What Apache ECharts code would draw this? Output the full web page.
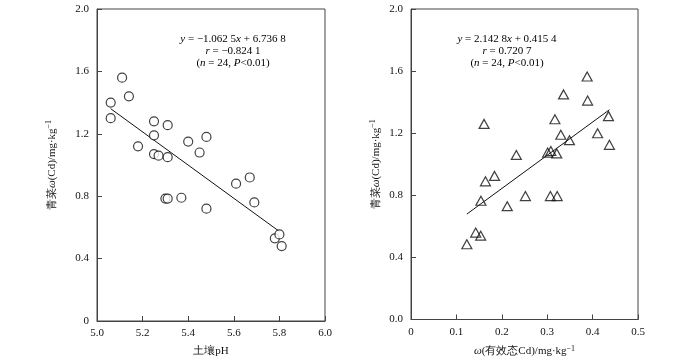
<!DOCTYPE html>
<html><head><meta charset="utf-8">
<script src="https://cdn.jsdelivr.net/npm/echarts@6/dist/echarts.min.js"></script>
<style>html,body{margin:0;padding:0;background:#fff}#c{width:700px;height:362px}</style>
</head><body><div id="c"></div>
<script>
// Left panel: soil pH vs Cd in 青菜
const soilPH = [5.11,5.14,5.06,5.06,5.25,5.31,5.25,5.18,5.40,5.48,5.45,5.25,5.27,5.31,5.67,5.61,5.69,5.30,5.31,5.37,5.48,5.78,5.80,5.81];
const cdLeft = [1.56,1.44,1.40,1.30,1.28,1.255,1.19,1.12,1.15,1.18,1.08,1.07,1.06,1.05,0.92,0.88,0.76,0.785,0.785,0.79,0.72,0.53,0.555,0.48];
// Right panel: available Cd vs Cd in 青菜
const availCd = [0.388,0.336,0.389,0.161,0.317,0.435,0.411,0.330,0.349,0.437,0.232,0.301,0.308,0.321,0.184,0.164,0.154,0.212,0.252,0.307,0.322,0.1425,0.1535,0.123];
const cdRight = [1.565,1.45,1.41,1.26,1.29,1.31,1.20,1.19,1.155,1.125,1.06,1.075,1.085,1.07,0.925,0.89,0.765,0.73,0.795,0.795,0.795,0.56,0.54,0.485];
// Fitted lines (endpoints)
const fitLeftX = [5.06, 5.80];
const fitLeftY = [1.361, 0.574];
const fitRightX = [0.123, 0.437];
const fitRightY = [0.679, 1.351];
// Ticks
const leftXTicks = ['5.0','5.2','5.4','5.6','5.8','6.0'];
const yTicksLeft = ['0','0.4','0.8','1.2','1.6','2.0'];
const yTicksRight = ['0.0','0.4','0.8','1.2','1.6','2.0'];
const rightXTicks = ['0','0.1','0.2','0.3','0.4','0.5'];

const FONT = 'Liberation Serif';
const base = {fontFamily: FONT, fontSize: 11, color: '#111'};
const rich = {
  i: {fontFamily: FONT, fontSize: 11, fontStyle: 'italic', color: '#111'},
  n: {fontFamily: FONT, fontSize: 11, color: '#111'},
  sup: {fontFamily: FONT, fontSize: 8, color: '#111', verticalAlign: 'top', padding: [0,0,6,0]}
};
const axisCol = '#444';
function xAxisDef(idx, min, max, interval, labels, name, gap) {
  return {
    type: 'value', gridIndex: idx, min, max, interval,
    axisLine: {show: true, onZero: false, lineStyle: {color: axisCol, width: 1}},
    axisTick: {show: true, inside: true, length: 5, lineStyle: {color: axisCol}},
    splitLine: {show: false},
    axisLabel: Object.assign({}, base, {margin: 7, formatter: v => labels[Math.round((v - min) / interval)]}),
    name, nameLocation: 'middle', nameGap: gap,
    nameTextStyle: Object.assign({}, base, {rich})
  };
}
function yAxisDef(idx, labels, gap) {
  return {
    type: 'value', gridIndex: idx, min: 0, max: 2, interval: 0.4,
    axisLine: {show: true, onZero: false, lineStyle: {color: axisCol, width: 1}},
    axisTick: {show: true, inside: true, length: 5, lineStyle: {color: axisCol}},
    splitLine: {show: false},
    axisLabel: Object.assign({}, base, {margin: 8, formatter: v => labels[Math.round(v / 0.4)]}),
    name: '{n|青菜}{i|ω}{n|(Cd)/mg·kg}{sup|−1}', nameLocation: 'middle', nameGap: gap,
    nameTextStyle: Object.assign({}, base, {rich})
  };
}
const chart = echarts.init(document.getElementById('c'), null, {renderer: 'canvas'});
const zip = (a, b) => a.map((v, i) => [v, b[i]]);
chart.setOption({
  animation: false,
  backgroundColor: '#fff',
  grid: [
    {left: 97, top: 9, width: 228, height: 316, show: true, borderColor: axisCol, borderWidth: 1, backgroundColor: 'transparent'},
    {left: 411, top: 9, width: 227, height: 316, show: true, borderColor: axisCol, borderWidth: 1, backgroundColor: 'transparent'}
  ],
  xAxis: [
    xAxisDef(0, 5.0, 6.0, 0.2, leftXTicks, '{n|土壤pH}', 25),
    xAxisDef(1, 0, 0.5, 0.1, rightXTicks, '{i|ω}{n|(有效态Cd)/mg·kg}{sup|−1}', 25)
  ],
  yAxis: [yAxisDef(0, yTicksLeft, 38), yAxisDef(1, yTicksRight, 28)],
  series: [
    {type: 'line', xAxisIndex: 0, yAxisIndex: 0, data: zip(fitLeftX, fitLeftY), symbol: 'none', lineStyle: {color: '#111', width: 1}, z: 2},
    {type: 'scatter', xAxisIndex: 0, yAxisIndex: 0, data: zip(soilPH, cdLeft), symbol: 'circle', symbolSize: 9,
      itemStyle: {color: '#fff', borderColor: '#111', borderWidth: 1.2}, z: 3},
    {type: 'line', xAxisIndex: 1, yAxisIndex: 1, data: zip(fitRightX, fitRightY), symbol: 'none', lineStyle: {color: '#111', width: 1}, z: 2},
    {type: 'scatter', xAxisIndex: 1, yAxisIndex: 1, data: zip(availCd, cdRight), symbol: 'triangle', symbolSize: [10, 9],
      itemStyle: {color: 'rgba(255,255,255,0)', borderColor: '#111', borderWidth: 1.2}, z: 3}
  ],
  graphic: [
    {type: 'text', x: 233, y: 39, style: {text: '{i|y}{n| = −1.062 5}{i|x}{n| + 6.736 8}', rich, align: 'center', verticalAlign: 'middle'}},
    {type: 'text', x: 233, y: 51, style: {text: '{i|r}{n| = −0.824 1}', rich, align: 'center', verticalAlign: 'middle'}},
    {type: 'text', x: 233, y: 63, style: {text: '{n|(}{i|n}{n| = 24, }{i|P}{n|<0.01)}', rich, align: 'center', verticalAlign: 'middle'}},
    {type: 'text', x: 507, y: 39, style: {text: '{i|y}{n| = 2.142 8}{i|x}{n| + 0.415 4}', rich, align: 'center', verticalAlign: 'middle'}},
    {type: 'text', x: 507, y: 51, style: {text: '{i|r}{n| = 0.720 7}', rich, align: 'center', verticalAlign: 'middle'}},
    {type: 'text', x: 507, y: 63, style: {text: '{n|(}{i|n}{n| = 24, }{i|P}{n|<0.01)}', rich, align: 'center', verticalAlign: 'middle'}}
  ]
});
</script>
</body></html>
